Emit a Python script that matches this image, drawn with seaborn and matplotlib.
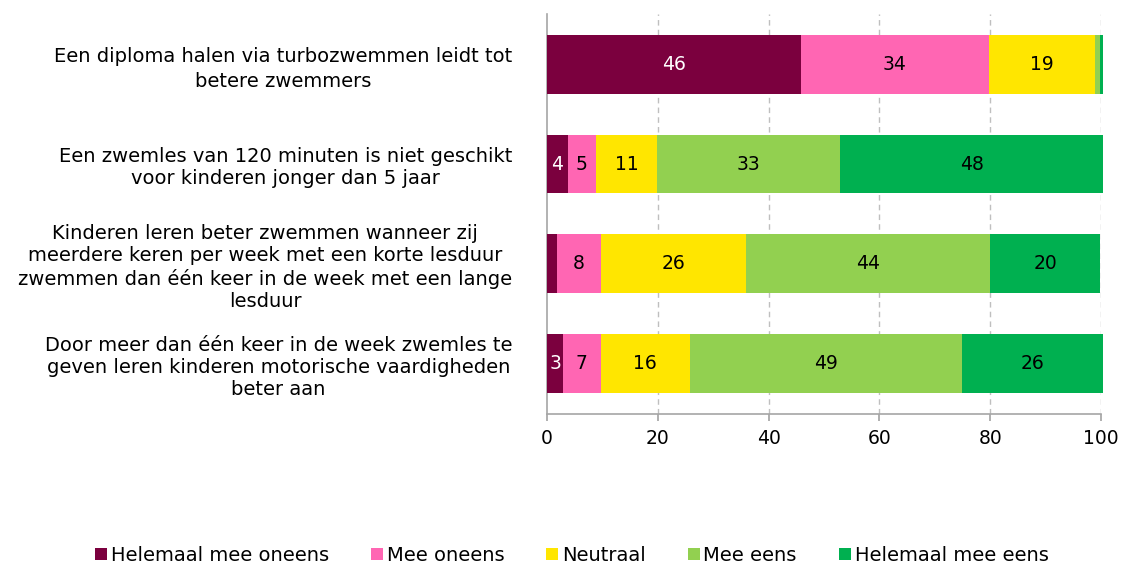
import numpy as np
import pandas as pd
import matplotlib
matplotlib.use("Agg")
import matplotlib.pyplot as plt
import seaborn as sns

# data
statements = [
    "Een diploma halen via turbozwemmen leidt tot\nbetere zwemmers",
    "Een zwemles van 120 minuten is niet geschikt\nvoor kinderen jonger dan 5 jaar",
    "Kinderen leren beter zwemmen wanneer zij\nmeerdere keren per week met een korte lesduur\nzwemmen dan één keer in de week met een lange\nlesduur",
    "Door meer dan één keer in de week zwemles te\ngeven leren kinderen motorische vaardigheden\nbeter aan",
]
answers = ["Helemaal mee oneens", "Mee oneens", "Neutraal", "Mee eens", "Helemaal mee eens"]
helemaal_oneens = [45.8, 3.8, 1.8, 2.9]
oneens = [34.0, 5.0, 7.9, 6.8]
neutraal = [19.1, 11.1, 26.2, 16.1]
eens = [0.9, 33.0, 44.1, 49.1]
helemaal_eens = [0.6, 47.5, 19.8, 25.5]
colors = ["#7B003E", "#FF66B3", "#FFE600", "#92D050", "#00B050"]

sns.set_theme(style="white")
plt.rcParams["font.family"] = ["DejaVu Sans"]
plt.rcParams["text.color"] = "black"
plt.rcParams["xtick.color"] = "black"
plt.rcParams["ytick.color"] = "black"

df = pd.DataFrame(
    np.array([helemaal_oneens, oneens, neutraal, eens, helemaal_eens]).T,
    columns=answers, index=statements,
)
cum = df.cumsum(axis=1)

fig = plt.figure(figsize=(11.23, 5.63), dpi=100)
ax = fig.add_axes([0.4871, 0.2647, 0.4933, 0.7104])

# stacked bars via overlapping cumulative totals, widest first
for i in range(len(answers) - 1, -1, -1):
    sns.barplot(x=cum.iloc[:, i].values, y=statements, color=colors[i],
                orient="h", width=0.59, linewidth=0, saturation=1, ax=ax,
                label=answers[i], zorder=3)
for p in ax.patches:
    p.set_clip_on(False)

# segment labels
for r, stmt in enumerate(statements):
    for i, ans in enumerate(answers):
        v = df.loc[stmt, ans]
        if v < 2.5:
            continue
        mid = cum.loc[stmt, ans] - v / 2
        ax.text(mid, r, f"{v:.0f}", ha="center", va="center", fontsize=13.5,
                color="white" if i == 0 else "black", zorder=4)

ax.set_xlim(0, 100)
ax.set_ylim(3.5, -0.5)
ax.set_xticks(range(0, 101, 20))
ax.set_xlabel("")
ax.set_ylabel("")
for x in range(20, 101, 20):
    ax.axvline(x, color="#BFBFBF", linestyle=(0, (4, 3)), linewidth=1, zorder=1)

for s in ["top", "right"]:
    ax.spines[s].set_visible(False)
for s in ["left", "bottom"]:
    ax.spines[s].set_color("#A6A6A6")
    ax.spines[s].set_linewidth(1.2)
ax.tick_params(axis="x", bottom=True, direction="out", length=5, color="#A6A6A6",
               labelsize=13.5, pad=6)
ax.tick_params(axis="y", left=False, labelsize=14, pad=19)
for k, lab in enumerate(ax.get_yticklabels()):
    lab.set_multialignment("center")
    lab.set_linespacing(1.4 if k == 0 else 1.2)

handles, labels = ax.get_legend_handles_labels()
order = [labels.index(a) for a in answers]
ax.legend([handles[k] for k in order], answers, loc="center",
          bbox_to_anchor=(0.509, 0.0135), bbox_transform=fig.transFigure,
          ncol=5, frameon=False, fontsize=14, handlelength=0.62, handleheight=0.62,
          handletextpad=0.2, columnspacing=2.15, borderpad=0)

fig.savefig("out.png", dpi=100)
